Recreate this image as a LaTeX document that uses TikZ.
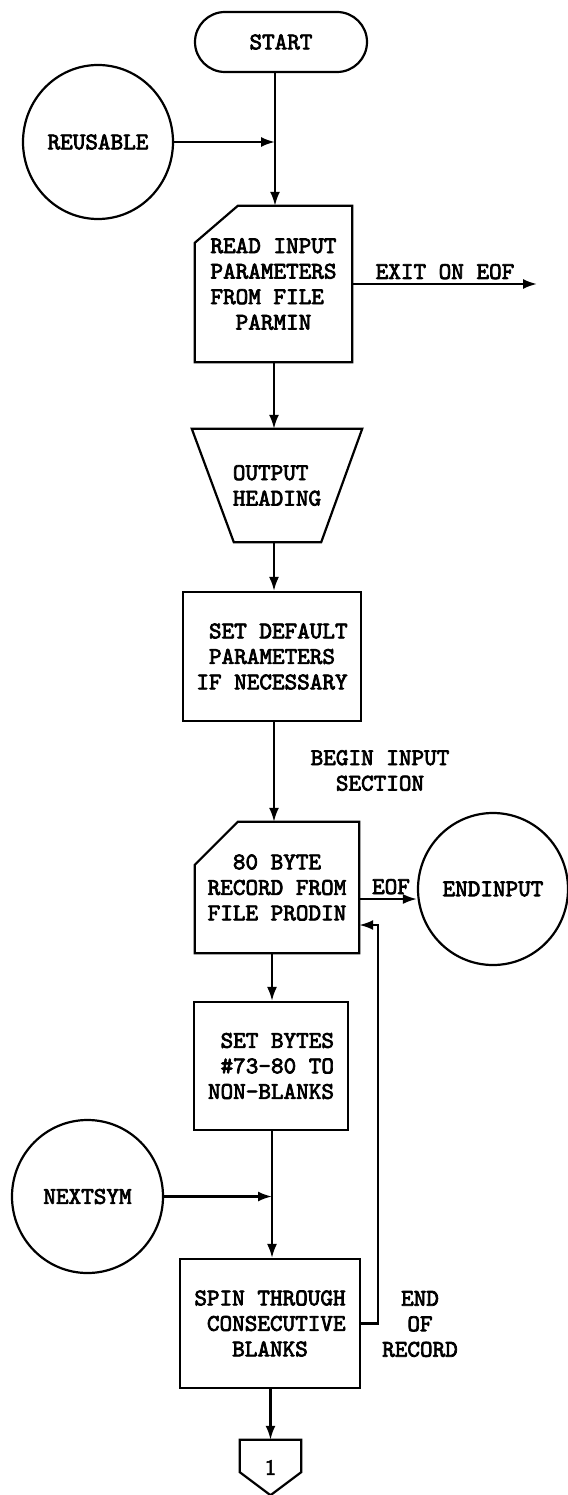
\documentclass[tikz,border=0pt]{standalone}
\usepackage{fontspec}
\newfontfamily\twfont{lmmono10-regular.otf}[FakeBold=3]
\newfontfamily\numfont{lmsans10-regular.otf}[FakeBold=2]
\usetikzlibrary{arrows.meta,shapes.geometric}
\begin{document}
\begin{tikzpicture}[x=1pt,y=-1pt,
  line/.style={line width=2.2pt},
  arr/.style={line width=2.2pt,-{Latex[length=14pt,width=10pt]}},
  txt/.style={font=\twfont\fontsize{24}{25.5}\selectfont, inner sep=0pt, align=center},
  box/.style={draw, line width=2.2pt, rectangle, txt},
  conn/.style={draw, ellipse, line width=2.2pt, txt},
  ]
\useasboundingbox (0,0) rectangle (567,1495);

% START
\node[draw, line width=2.2pt, rounded corners=30pt, minimum width=172pt, minimum height=60pt, txt] (start) at (281,42) {START};
% REUSABLE
\node[conn, minimum width=150pt, minimum height=154pt] (reuse) at (98,142) {REUSABLE};
\coordinate (j1) at (275,142);
\draw[arr] (reuse.east) -- (j1);

% READ INPUT (manual input)
\node[txt, minimum width=157pt, minimum height=156pt, align=left] (read) at (273.5,284)
  {READ INPUT\\PARAMETERS\\FROM FILE\\\phantom{XX}PARMIN};
\draw[line] (read.south west) -- (read.south east) -- (read.north east)
  -- ([xshift=43pt]read.north west) -- ([yshift=-37pt]read.north west) -- cycle;
\draw[arr] (start.south -| j1) -- (read.north -| j1);

% exit
\coordinate (exitend) at (537,284);
\draw[arr] (read.east) -- (exitend);
\node[txt, anchor=base] (exitlbl) at (445,279) {EXIT ON EOF};

% OUTPUT HEADING (trapezoid)
\coordinate (s2) at (274,0);
\node[txt, minimum width=170pt, minimum height=113pt, align=left] (outh) at (277,485.5) {OUTPUT\\HEADING};
\draw[line] (outh.north west) -- (outh.north east) -- ([xshift=-41pt]outh.south east)
  -- ([xshift=42pt]outh.south west) -- cycle;
\draw[arr] (read.south -| s2) -- (outh.north -| s2);

% SET DEFAULT
\node[box, minimum width=178pt, minimum height=129pt, align=left] (setdef) at (272,656.5)
  {\phantom{X}SET DEFAULT\\\phantom{X}PARAMETERS\\IF NECESSARY};
\draw[arr] (outh.south -| s2) -- (setdef.north -| s2);

% BEGIN INPUT SECTION label
\node[txt] (beginlbl) at (380,770.5) {BEGIN INPUT\\SECTION};

% 80 BYTE RECORD (manual input)
\node[txt, minimum width=164pt, minimum height=131pt] (rec) at (277,887.5)
  {80 BYTE\\RECORD FROM\\FILE PRODIN};
\draw[line] (rec.south west) -- (rec.south east) -- (rec.north east)
  -- ([xshift=43pt]rec.north west) -- ([yshift=-43pt]rec.north west) -- cycle;
\draw[arr] (setdef.south -| s2) -- (rec.north -| s2);

% ENDINPUT
\node[conn, minimum width=150pt, minimum height=152pt] (endin) at (493,889) {ENDINPUT};
\coordinate (eofy) at (0,899);
\draw[arr] (rec.east |- eofy) -- (endin.west |- eofy);
\node[txt, anchor=base] (eoflbl) at (391,894) {EOF};

% SET BYTES
\coordinate (s3) at (272,0);
\node[box, minimum width=154pt, minimum height=128pt, align=left] (bytes) at (271,1066)
  {\phantom{X}SET BYTES\\\phantom{X}\#73-80 TO\\NON-BLANKS};
\draw[arr] (rec.south -| s3) -- (bytes.north -| s3);

% NEXTSYM
\node[conn, minimum width=151pt, minimum height=153pt] (nexts) at (87.5,1196.5) {NEXTSYM};
\coordinate (j2) at (272,1196.5);
\draw[arr] (nexts.east) -- (j2);

% SPIN THROUGH
\node[box, minimum width=180pt, minimum height=129pt, align=left] (spin) at (270,1323.5)
  {SPIN THROUGH\\\phantom{X}CONSECUTIVE\\\phantom{XXX}BLANKS};
\draw[arr] (bytes.south -| j2) -- (spin.north -| j2);

% loop back
\coordinate (lp) at (378,1323.5);
\coordinate (lpt) at (378,925);
\draw[arr] (spin.east) -- (lp) -- (lpt) -- (rec.east |- lpt);
\node[txt] (eorlbl) at (420,1324) {END\\OF\\RECORD};

% off-page connector
\node[inner sep=0pt, minimum width=61pt, minimum height=55pt, font=\numfont\fontsize{22}{24}\selectfont] (c1) at (270.5,1467.5) {1};
\draw[line] (c1.north west) -- (c1.north east) -- ([yshift=23pt]c1.south east)
  -- (c1.south) -- ([yshift=23pt]c1.south west) -- cycle;
\draw[arr] (spin.south -| c1.north) -- (c1.north);
\end{tikzpicture}
\end{document}
